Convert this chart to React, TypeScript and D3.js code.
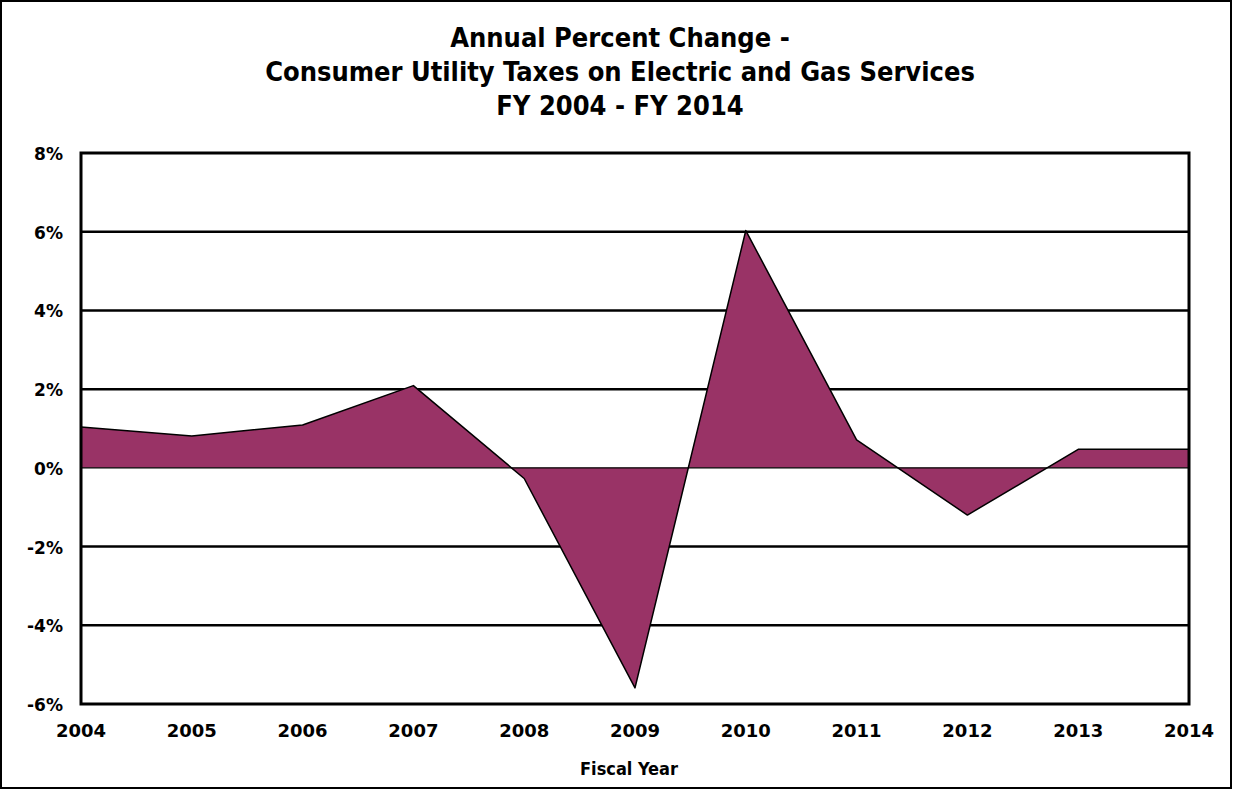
import { useEffect } from "react";
import * as d3 from "d3";

const years = [2004, 2005, 2006, 2007, 2008, 2009, 2010, 2011, 2012, 2013, 2014];
const pctChange = [1.04, 0.81, 1.09, 2.09, -0.27, -5.59, 6.03, 0.71, -1.2, 0.47, 0.47];
const yTicks = [-6, -4, -2, 0, 2, 4, 6, 8];
const titleLines = [
  "Annual Percent Change -",
  "Consumer Utility Taxes on Electric and Gas Services",
  "FY 2004 - FY 2014",
];

const width = 1233;
const height = 790;
const margin = { top: 153, right: 44, bottom: 86, left: 81 };

export default function App() {
  useEffect(() => {
    document.body.style.margin = "0";
  }, []);

  const x = d3
    .scaleLinear()
    .domain([years[0], years[years.length - 1]])
    .range([margin.left, width - margin.right]);

  const y = d3
    .scaleLinear()
    .domain([-6, 8])
    .range([height - margin.bottom, margin.top]);

  const pts = years.map((yr, i) => ({ yr, v: pctChange[i] }));

  const area = d3
    .area<{ yr: number; v: number }>()
    .x((d) => x(d.yr))
    .y0(y(0))
    .y1((d) => y(d.v));

  const line = d3
    .line<{ yr: number; v: number }>()
    .x((d) => x(d.yr))
    .y((d) => y(d.v));

  const condensed = "'DejaVu Sans Condensed', 'Liberation Sans Narrow', sans-serif";
  const sans = "'DejaVu Sans', sans-serif";

  return (
    <svg width={width} height={height} style={{ display: "block", background: "#fff" }}>
      {/* outer border */}
      <rect x={1} y={1} width={width - 3} height={height - 3} fill="none" stroke="#000" strokeWidth={2} />

      {/* title */}
      {titleLines.map((t, i) => (
        <text
          key={t}
          x={620}
          y={47 + i * 34}
          textAnchor="middle"
          fontFamily={condensed}
          fontWeight="bold"
          fontSize={27}
          fill="#000"
        >
          {t}
        </text>
      ))}

      {/* gridlines */}
      {yTicks
        .filter((t) => t !== 0 && t !== 8 && t !== -6)
        .map((t) => (
          <line
            key={t}
            x1={x(years[0])}
            x2={x(years[years.length - 1])}
            y1={y(t)}
            y2={y(t)}
            stroke="#000"
            strokeWidth={2.5}
          />
        ))}

      {/* area */}
      <path d={area(pts) ?? ""} fill="#993366" />
      <path d={line(pts) ?? ""} fill="none" stroke="#000" strokeWidth={1.5} strokeLinejoin="round" />
      <line x1={x(years[0])} x2={x(years[years.length - 1])} y1={y(0)} y2={y(0)} stroke="#000" strokeWidth={1.2} />

      {/* plot frame */}
      <rect
        x={x(years[0])}
        y={y(8)}
        width={x(years[years.length - 1]) - x(years[0])}
        height={y(-6) - y(8)}
        fill="none"
        stroke="#000"
        strokeWidth={3}
      />

      {/* y tick labels */}
      {yTicks.map((t) => (
        <text
          key={t}
          x={63}
          y={y(t) + 7}
          textAnchor="end"
          fontFamily={sans}
          fontWeight="bold"
          fontSize={17}
          fill="#000"
        >
          {t}%
        </text>
      ))}

      {/* x tick labels */}
      {years.map((yr) => (
        <text
          key={yr}
          x={x(yr)}
          y={737}
          textAnchor="middle"
          fontFamily={sans}
          fontWeight="bold"
          fontSize={18}
          fill="#000"
        >
          {yr}
        </text>
      ))}

      <text x={629} y={775} textAnchor="middle" fontFamily={condensed} fontWeight="bold" fontSize={18} fill="#000">
        Fiscal Year
      </text>
    </svg>
  );
}
